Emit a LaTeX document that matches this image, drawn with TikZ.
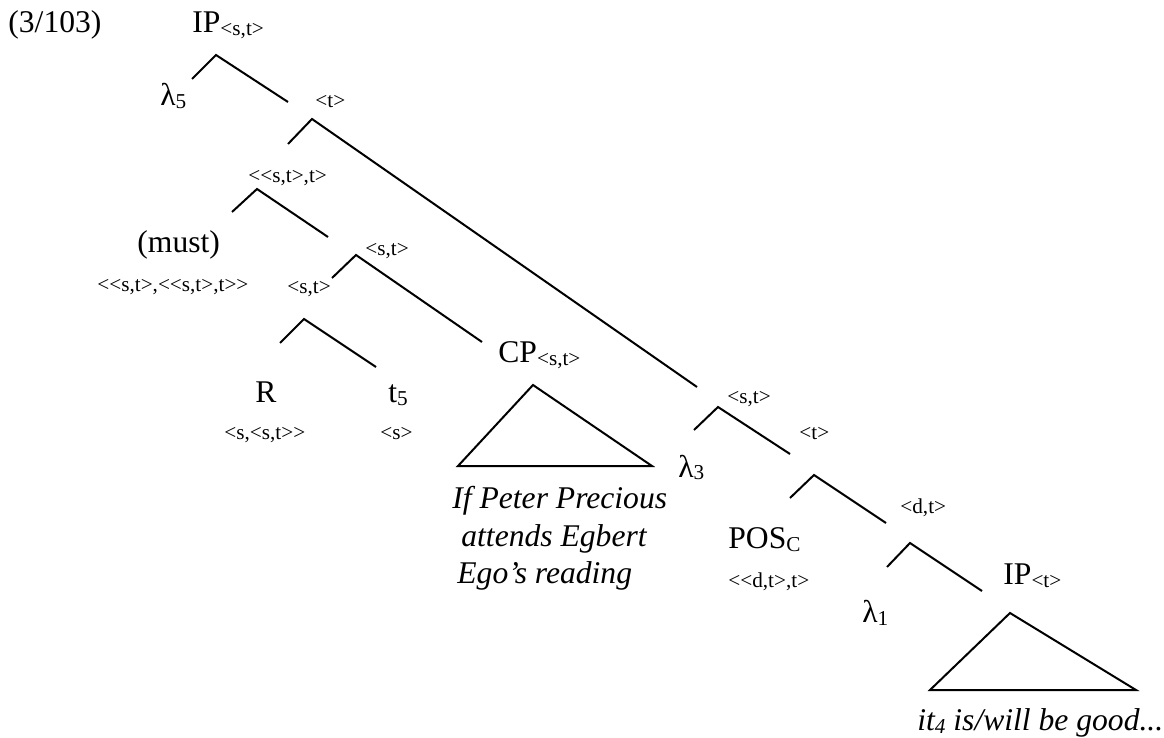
\documentclass[tikz,border=0pt]{standalone}
\usepackage{fontspec}
\setmainfont{Liberation Serif}[Ligatures=TeXOff]
\newcommand\bigf{\fontsize{15.8}{18}\selectfont}
\newcommand\smf{\fontsize{10.6}{12}\selectfont}
\newcommand\lowsub[1]{\raisebox{-1.5pt}{\smf #1}}
\begin{document}
\begin{tikzpicture}[x=0.5pt,y=-0.5pt,
  big/.style={anchor=base west,inner sep=0pt,font=\bigf},
  typ/.style={anchor=base west,inner sep=0pt,font=\smf},
  branch/.style={line width=1pt},
  tri/.style={line width=1pt,line join=miter}]
\useasboundingbox (0,0) rectangle (1164,738);
% labels
\node[big] (ex) at (8,33) {(3/103)};
\node[big] (root) at (192,33) {IP\lowsub{<s,t>}};
\node[big] (l5) at (160,106) {λ\lowsub{5}};
\node[typ] (t1) at (315,108) {<t>};
\node[typ] (stt) at (248,183) {<{}<s,t>,t>};
\node[big] (must) at (137,253) {(must)};
\node[typ] (mustt) at (97,292) {<{}<s,t>,<{}<s,t>,t>{}>};
\node[typ] (st1) at (365,256) {<s,t>};
\node[typ] (st2) at (287,293) {<s,t>};
\node[big] (R) at (255,402) {R};
\node[big] (t5) at (388,402) {t\lowsub{5}};
\node[typ] (Rt) at (224,439) {<s,<s,t>{}>};
\node[typ] (t5t) at (380,439) {<s>};
\node[big] (CP) at (498,363) {CP\lowsub{<s,t>}};
\node[big] (l3) at (678,477) {λ\lowsub{3}};
\node[big,font=\bigf\itshape] (cp1) at (452,509) {If Peter Precious};
\node[big,font=\bigf\itshape] (cp2) at (461,546) {attends Egbert};
\node[big,font=\bigf\itshape] (cp3) at (457,583) {Ego’s reading};
\node[typ] (st3) at (727,403) {<s,t>};
\node[typ] (t2) at (799,439) {<t>};
\node[typ] (dt) at (900,513) {<d,t>};
\node[big] (pos) at (728,548) {POS\lowsub{C}};
\node[typ] (post) at (728,587) {<{}<d,t>,t>};
\node[big] (l1) at (862,622) {λ\lowsub{1}};
\node[big] (ip) at (1003,584) {IP\lowsub{<t>}};
\node[big,font=\bigf\itshape] (good) at (917,730) {it\lowsub{4} is/will be good...};
% branch points
\coordinate (a1) at (216,55); \coordinate (a1l) at (192,79); \coordinate (a1r) at (288,102);
\coordinate (a2) at (312,119); \coordinate (a2l) at (288,144); \coordinate (a2r) at (697,387);
\coordinate (a3) at (257,189); \coordinate (a3l) at (232,212); \coordinate (a3r) at (328,237);
\coordinate (a4) at (356,255); \coordinate (a4l) at (332,278); \coordinate (a4r) at (482,342);
\coordinate (a5) at (304,319); \coordinate (a5l) at (280,343); \coordinate (a5r) at (376,367);
\coordinate (a6) at (718,407); \coordinate (a6l) at (694,430); \coordinate (a6r) at (790,454);
\coordinate (a7) at (814,475); \coordinate (a7l) at (790,498); \coordinate (a7r) at (886,523);
\coordinate (a8) at (910,543); \coordinate (a8l) at (887,567); \coordinate (a8r) at (982,591);
\coordinate (c1) at (533,385); \coordinate (c2) at (458,466); \coordinate (c3) at (652,466);
\coordinate (i1) at (1010,613); \coordinate (i2) at (930,690); \coordinate (i3) at (1136,690);
\foreach \n in {a1,a2,a3,a4,a5,a6,a7,a8}{
  \draw[branch] (\n l) -- (\n) -- (\n r);
}
\draw[tri] (c1) -- (c2) -- (c3) -- cycle;
\draw[tri] (i1) -- (i2) -- (i3) -- cycle;
\end{tikzpicture}
\end{document}
